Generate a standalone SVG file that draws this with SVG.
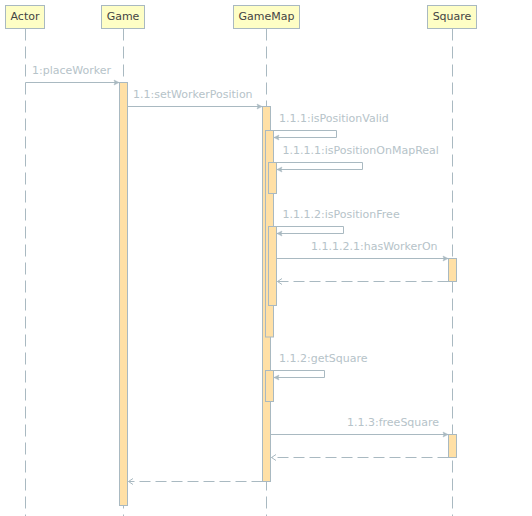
<svg xmlns="http://www.w3.org/2000/svg" width="532" height="516" viewBox="0 0 532 516">
<style>
.life{stroke:#A9B9C1;stroke-width:1;stroke-dasharray:12,6;fill:none}
.head rect{fill:#FEFEC5;stroke:#A9B9C1;stroke-width:1}
.head text{font-family:"DejaVu Sans",sans-serif;font-size:11px;fill:#444;text-anchor:middle}
.act{fill:#FFE0A6;stroke:#A9B9C1;stroke-width:1}
.msg{stroke:#A9B9C1;stroke-width:1;fill:none}
.ret{stroke:#A9B9C1;stroke-width:1;fill:none;stroke-dasharray:11,5}
.lbl{font-family:"DejaVu Sans",sans-serif;font-size:11px;fill:#B6C3C9}
.ah{fill:#A9B9C1;stroke:#A9B9C1;stroke-width:0.5}
.oh{fill:none;stroke:#A9B9C1;stroke-width:1}
</style>
<g id="lifelines">
<line class="life" x1="25.5" y1="28.5" x2="25.5" y2="516"/>
<line class="life" x1="123.5" y1="28.5" x2="123.5" y2="516"/>
<line class="life" x1="266.5" y1="28.5" x2="266.5" y2="516"/>
<line class="life" x1="452.5" y1="28.5" x2="452.5" y2="516"/>
</g>
<g id="Actor" class="head"><rect x="5.5" y="5.5" width="39" height="23"/><text x="25" y="20">Actor</text></g>
<g id="Game" class="head"><rect x="101.5" y="5.5" width="43" height="23"/><text x="123" y="20">Game</text></g>
<g id="GameMap" class="head"><rect x="233.5" y="5.5" width="66" height="23"/><text x="266.5" y="20">GameMap</text></g>
<g id="Square" class="head"><rect x="427.5" y="5.5" width="49" height="23"/><text x="452" y="20">Square</text></g>
<g id="activations">
<rect class="act" x="119.5" y="82.5" width="8" height="423"/>
<rect class="act" x="262.5" y="106.5" width="8" height="375"/>
<rect class="act" x="265.5" y="130.5" width="8" height="206.5"/>
<rect class="act" x="268.5" y="162.5" width="8" height="31"/>
<rect class="act" x="268.5" y="226.5" width="8" height="79"/>
<rect class="act" x="265.5" y="370.5" width="8" height="31"/>
<rect class="act" x="448.5" y="258.5" width="8" height="23"/>
<rect class="act" x="448.5" y="434.5" width="8" height="23"/>
</g>
<g id="connectors">
<line class="msg" x1="25.5" y1="82.5" x2="119" y2="82.5"/>
<polygon class="ah" points="119,82.5 114,80 115,82.5 114,85"/>
<text class="lbl" x="32" y="74">1:placeWorker</text>

<line class="msg" x1="127.5" y1="106.5" x2="262" y2="106.5"/>
<polygon class="ah" points="262,106.5 257,104 258,106.5 257,109"/>
<text class="lbl" x="133" y="98">1.1:setWorkerPosition</text>

<polyline class="msg" points="270.5,130.5 336.5,130.5 336.5,137.5 274,137.5"/>
<polygon class="ah" points="274,137.5 279,135 278,137.5 279,140"/>
<text class="lbl" x="279" y="122">1.1.1:isPositionValid</text>

<polyline class="msg" points="273.5,162.5 362.5,162.5 362.5,169.5 277,169.5"/>
<polygon class="ah" points="277,169.5 282,167 281,169.5 282,172"/>
<text class="lbl" x="282.5" y="154">1.1.1.1:isPositionOnMapReal</text>

<polyline class="msg" points="273.5,226.5 343.5,226.5 343.5,233.5 277,233.5"/>
<polygon class="ah" points="277,233.5 282,231 281,233.5 282,236"/>
<text class="lbl" x="282.5" y="218">1.1.1.2:isPositionFree</text>

<line class="msg" x1="276.5" y1="258.5" x2="448" y2="258.5"/>
<polygon class="ah" points="448,258.5 443,256 444,258.5 443,261"/>
<text class="lbl" x="311" y="250">1.1.1.2.1:hasWorkerOn</text>

<line class="ret" x1="448.5" y1="281.5" x2="277.5" y2="281.5"/>
<polyline class="oh" points="282,278.5 277.5,281.5 282,284.5"/>

<polyline class="msg" points="270.5,370.5 324.5,370.5 324.5,377.5 274,377.5"/>
<polygon class="ah" points="274,377.5 279,375 278,377.5 279,380"/>
<text class="lbl" x="279" y="362">1.1.2:getSquare</text>

<line class="msg" x1="270.5" y1="434.5" x2="448" y2="434.5"/>
<polygon class="ah" points="448,434.5 443,432 444,434.5 443,437"/>
<text class="lbl" x="347" y="426">1.1.3:freeSquare</text>

<line class="ret" x1="448.5" y1="457.5" x2="271.5" y2="457.5"/>
<polyline class="oh" points="276,454.5 271.5,457.5 276,460.5"/>

<line class="ret" x1="262.5" y1="481.5" x2="128.5" y2="481.5"/>
<polyline class="oh" points="133,478.5 128.5,481.5 133,484.5"/>
</g>
</svg>
